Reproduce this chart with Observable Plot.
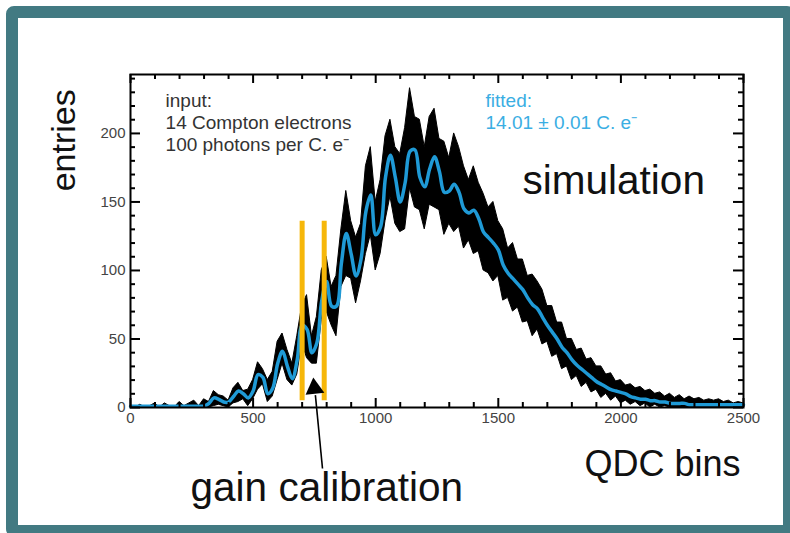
<!DOCTYPE html>
<html>
<head>
<meta charset="utf-8">
<script src="https://cdn.jsdelivr.net/npm/d3@7"></script>
<script src="https://cdn.jsdelivr.net/npm/@observablehq/plot@0.6"></script>
<style>
  html, body { margin: 0; padding: 0; background: #fff; }
  body { width: 790px; height: 533px; overflow: hidden; position: relative; }
  #border { position: absolute; left: 6px; top: 6px; width: 789px; height: 531px;
            border: 12px solid #427a82; border-radius: 8px; box-sizing: border-box; }
  #chart { position: absolute; left: 0; top: 0; }
</style>
</head>
<body>
<div id="border"></div>
<div id="chart"></div>
<script>
// QDC bin positions (every 20 bins)
const qdc = d3.range(0, 2501, 20);

// fitted curve (entries)
const fit = [
  1,1,1,1,1,1,1,1,1,1,
  1,1,1,1,1,1,3,7,6,4,
  4,8,12,10,7,12,24,22,10,14,
  32,41,30,21,35,60,57,40,47,78,
  92,74,74,105,127,112,96,108,143,155,
  126,132,168,184,168,150,164,187,188,168,
  161,174,183,172,157,158,163,157,145,142,
  144,138,128,124,120,115,104,98,94,90,
  86,80,75,72,66,60,55,50,44,40,
  35,31,28,25,22,19,17,15,13,12,
  11,10,8,7,6,6,5,5,4,4,
  3,3,3,3,2,2,2,2,2,2,
  2,2,2,2,2,2
];

// simulated histogram: upper and lower extent of the fluctuating entries
const histHigh = [
  1,0,2,0,1,3,0,3,1,0,
  4,1,3,5,1,6,4,12,9,8,
  5,14,18,12,13,20,33,28,20,26,
  48,54,42,32,52,74,82,52,66,100,
  110,88,96,130,158,136,124,134,176,190,
  150,166,198,210,190,185,204,233,212,210,
  190,212,218,196,194,182,200,190,176,166,
  176,164,156,146,150,136,130,116,120,108,
  108,96,97,92,86,74,74,62,62,50,
  50,42,43,35,36,30,30,24,25,19,
  20,16,17,14,15,12,13,10,11,8,
  10,7,9,6,8,6,7,5,6,5,
  6,4,5,3,4,3
];
const histLow = [
  0,0,0,0,0,0,0,0,0,0,
  0,0,0,0,0,0,0,1,2,1,
  0,3,4,6,1,6,13,17,4,8,
  20,32,20,16,24,47,36,32,32,64,
  70,60,52,88,96,94,76,92,112,126,
  100,112,136,154,134,128,130,160,146,144,
  130,148,146,144,126,134,128,132,116,122,
  112,114,100,98,92,96,78,80,70,73,
  62,63,52,57,46,48,37,39,28,30,
  20,23,15,18,11,13,7,10,5,8,
  3,5,2,4,1,3,0,2,0,1,
  0,0,0,0,0,0,0,0,0,0,
  0,0,0,0,0,0
];

// gain calibration markers (QDC bins)
const calibration = [700, 790];

// axis ticks
const xMajor = [0, 500, 1000, 1500, 2000, 2500];
const xMinor = [100, 200, 300, 400, 600, 700, 800, 900, 1100, 1200, 1300, 1400,
                1600, 1700, 1800, 1900, 2100, 2200, 2300, 2400];
const yMajor = [0, 50, 100, 150, 200];
const yMinor = [10, 20, 30, 40, 60, 70, 80, 90, 110, 120, 130, 140, 160, 170, 180, 190,
                210, 220, 230, 240];

const inputText = "input:\n14 Compton electrons\n100 photons per C. e\u207B";
const fittedText = "fitted:\n14.01 \u00B1 0.01 C. e\u207B";

const rows = qdc.map((x, i) => ({x, fit: fit[i], lo: histLow[i], hi: histHigh[i]}));

const W = 790, H = 533, ML = 130, MR = 47, MT = 74, MB = 126;
const FW = W - ML - MR, FH = H - MT - MB;
const font = "'Liberation Sans', Arial, Helvetica, sans-serif";

const chart = Plot.plot({
  width: W, height: H,
  marginLeft: ML, marginRight: MR, marginTop: MT, marginBottom: MB,
  x: {domain: [0, 2500], label: null},
  y: {domain: [0, 243], label: null},
  style: {fontFamily: font, fontSize: "15px", background: "transparent", color: "#444"},
  marks: [
    Plot.areaY(rows, {x: "x", y1: "lo", y2: "hi", fill: "#000", stroke: "#000", strokeWidth: 1, curve: "linear"}),
    Plot.line(rows, {x: "x", y: "fit", stroke: "#1f9ad6", strokeWidth: 3.5, curve: "catmull-rom"}),
    Plot.ruleX(calibration, {x: d => d, y1: 5, y2: 136, stroke: "#f6b70a", strokeWidth: 5}),
    Plot.frame({stroke: "#000", strokeWidth: 2}),
    // inward ticks on all four sides
    Plot.tickX(xMajor, {x: d => d, insetTop: FH - 9, stroke: "#000", strokeWidth: 2}),
    Plot.tickX(xMinor, {x: d => d, insetTop: FH - 5, stroke: "#000", strokeWidth: 2}),
    Plot.tickX(xMajor, {x: d => d, insetBottom: FH - 9, stroke: "#000", strokeWidth: 2}),
    Plot.tickX(xMinor, {x: d => d, insetBottom: FH - 5, stroke: "#000", strokeWidth: 2}),
    Plot.tickY(yMajor, {y: d => d, insetRight: FW - 10, stroke: "#000", strokeWidth: 2}),
    Plot.tickY(yMinor, {y: d => d, insetRight: FW - 5, stroke: "#000", strokeWidth: 2}),
    Plot.tickY(yMajor, {y: d => d, insetLeft: FW - 10, stroke: "#000", strokeWidth: 2}),
    Plot.tickY(yMinor, {y: d => d, insetLeft: FW - 5, stroke: "#000", strokeWidth: 2}),
    Plot.axisX({ticks: xMajor, tickSize: 0, tickPadding: 5, label: null, fill: "#444", tickFormat: d => String(d)}),
    Plot.axisY({ticks: yMajor, tickSize: 0, tickPadding: 5, label: null, fill: "#444", tickFormat: d => String(d)}),
    // annotations
    Plot.text([inputText], {x: 143, y: 230.5, text: d => d, textAnchor: "start", lineAnchor: "top",
      fontSize: 19, lineHeight: 1.16, fill: "#333"}),
    Plot.text([fittedText], {x: 1448, y: 230.5, text: d => d, textAnchor: "start", lineAnchor: "top",
      fontSize: 19, lineHeight: 1.16, fill: "#3aaee3"}),
    Plot.text(["simulation"], {x: 1599, y: 165, text: d => d, textAnchor: "start",
      fontSize: 40.5, fill: "#111"}),
    Plot.text(["entries"], {x: -269, y: 195, text: d => d, rotate: -90,
      fontSize: 34, fill: "#111"}),
    Plot.text(["QDC bins"], {x: 2488, y: -41.5, text: d => d, textAnchor: "end",
      fontSize: 36, fill: "#111"}),
    Plot.text(["gain calibration"], {x: 245, y: -59, text: d => d, textAnchor: "start",
      fontSize: 40.5, fill: "#111"}),
    Plot.link([{x1: 783, y1: -44.5, x2: 754, y2: 9}], {x1: "x1", y1: "y1", x2: "x2", y2: "y2",
      stroke: "#000", strokeWidth: 1.6}),
    Plot.dot([{x: 750, y: 14}], {x: "x", y: "y", symbol: "triangle", r: 7, fill: "#000", rotate: -6})
  ]
});
document.getElementById("chart").appendChild(chart);
</script>
</body>
</html>
